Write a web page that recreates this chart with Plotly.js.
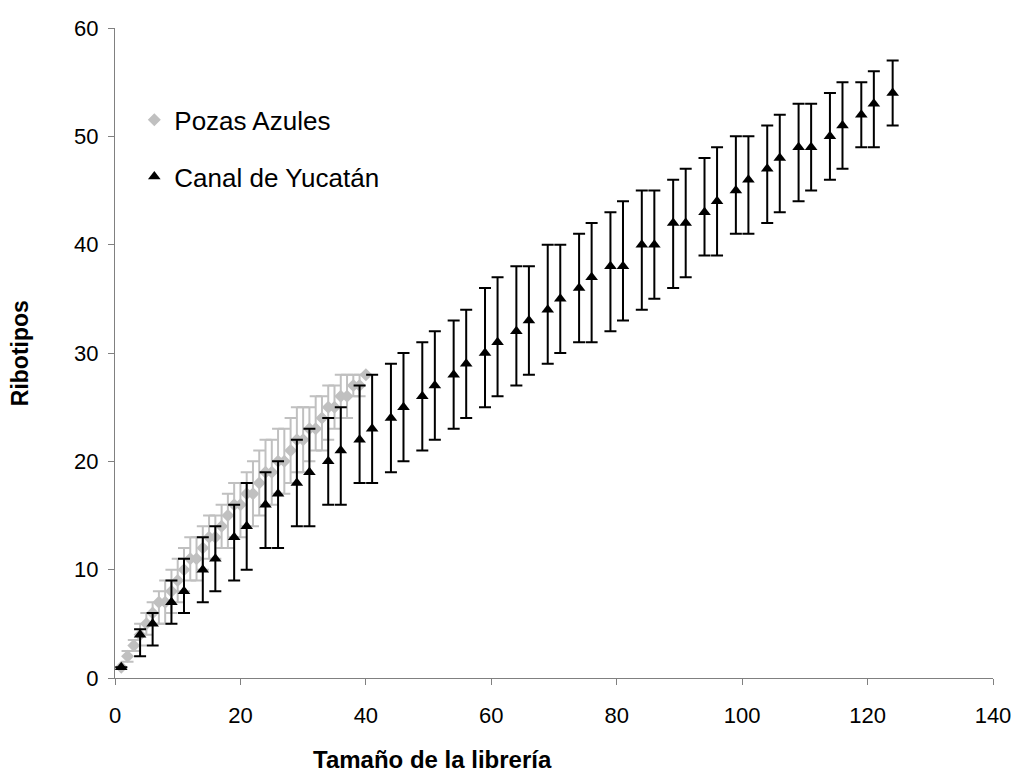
<!DOCTYPE html>
<html>
<head>
<meta charset="utf-8">
<script src="https://cdn.plot.ly/plotly-3.0.1.min.js"></script>
<style>html,body{margin:0;padding:0;background:#fff;}#chart{width:1018px;height:775px;}</style>
</head>
<body>
<div id="chart"></div>
<script>
// Pozas Azules (grey diamonds)
var pozasX = [1,2,3,4,5,6,7,8,9,10,11,12,13,14,15,16,17,18,19,20,21,22,23,24,25,26,27,28,29,30,31,32,33,34,35,36,37,38,39,40];
var pozasY = [1,2,3,4,5,6,7,7,8,9,10,11,11,12,13,13,14,15,16,16,17,17,18,19,19,20,20,21,22,22,23,23,24,25,25,26,26,27,27,28];
var pozasHi = [1,2.5,3.5,5,6,7,8,9,10,11,12,13,13,14,15,15,16,17,18,18,19,20,21,22,22,23,23,24,25,25,25,26,26,27,27,28,28,28,28,28];
var pozasLo = [1,1.5,2.5,3,4,5,5,5,6,7,8,9,9,10,11,11,12,12,13,13,14,14,15,16,16,17,17,18,19,19,20,21,21,22,23,24,24,26,26,28];

// Canal de Yucatán (black triangles)
var canalX = [1,4,6,9,11,14,16,19,21,24,26,29,31,34,36,39,41,44,46,49,51,54,56,59,61,64,66,69,71,74,76,79,81,84,86,89,91,94,96,99,101,104,106,109,111,114,116,119,121,124];
var canalY = [1,4,5,7,8,10,11,13,14,16,17,18,19,20,21,22,23,24,25,26,27,28,29,30,31,32,33,34,35,36,37,38,38,40,40,42,42,43,44,45,46,47,48,49,49,50,51,52,53,54];
var canalHi = [1,4.5,6,9,11,13,14,16,18,19,20,22,23,24,25,27,28,29,30,31,32,33,34,36,37,38,38,40,40,41,42,43,44,45,45,46,47,48,49,50,50,51,52,53,53,54,55,55,56,57];
var canalLo = [1,2,3,5,6,7,8,9,10,12,12,14,14,16,16,18,18,19,20,21,22,23,24,25,26,27,28,29,30,31,31,32,33,34,35,36,37,39,39,41,41,42,43,44,45,46,47,49,49,51];

var xTicks = [0,20,40,60,80,100,120,140];
var yTicks = [0,10,20,30,40,50,60];
var xTitle = 'Tamaño de la librería';
var yTitle = 'Ribotipos';

function plus(hi, y){ return hi.map(function(v,i){ return v - y[i]; }); }
function minus(lo, y){ return lo.map(function(v,i){ return y[i] - v; }); }

var FONT = "Liberation Sans, Arial, Helvetica, sans-serif";

var traces = [
  {
    type: 'scatter', mode: 'markers', name: 'Pozas Azules', legendgroup: 'a',
    x: pozasX, y: pozasY,
    marker: {symbol: 'diamond', size: 10, color: '#C0C0C0'},
    error_y: {type: 'data', symmetric: false, array: plus(pozasHi, pozasY), arrayminus: minus(pozasLo, pozasY),
              color: '#C0C0C0', thickness: 2, width: 6}
  },
  {
    type: 'scatter', mode: 'markers', name: 'Canal de Yucatán', legendgroup: 'b',
    x: canalX, y: canalY,
    marker: {symbol: 'triangle-up', size: 11, color: '#000000'},
    error_y: {type: 'data', symmetric: false, array: plus(canalHi, canalY), arrayminus: minus(canalLo, canalY),
              color: '#000000', thickness: 2, width: 6}
  }
];

var layout = {
  width: 1018, height: 775,
  paper_bgcolor: '#ffffff', plot_bgcolor: '#ffffff',
  margin: {l: 115, r: 25, t: 28, b: 97},
  font: {family: FONT, size: 22, color: '#000'},
  showlegend: true,
  legend: {
    x: 0.022, y: 0.895, xanchor: 'left', yanchor: 'top',
    font: {family: FONT, size: 26, color: '#000'},
    bgcolor: 'rgba(0,0,0,0)', tracegroupgap: 20, traceorder: 'grouped'
  },
  xaxis: {
    range: [0, 140], tickvals: xTicks, ticktext: xTicks.map(String),
    showline: true, linecolor: '#808080', linewidth: 1,
    ticks: 'outside', ticklen: 6, tickcolor: '#808080',
    showgrid: false, zeroline: false, ticklabelstandoff: 12,
    tickfont: {family: FONT, size: 22, color: '#000'}
  },
  yaxis: {
    range: [0, 60], tickvals: yTicks, ticktext: yTicks.map(String),
    showline: true, linecolor: '#808080', linewidth: 1,
    ticks: 'outside', ticklen: 6, tickcolor: '#808080',
    showgrid: false, zeroline: false, ticklabelstandoff: 5,
    tickfont: {family: FONT, size: 22, color: '#000'}
  },
  annotations: [
    {text: xTitle, xref: 'paper', yref: 'paper', x: 0.362, y: -0.126, xanchor: 'center', yanchor: 'middle',
     showarrow: false, font: {family: FONT, size: 24, color: '#000', weight: 'bold'}},
    {text: yTitle, xref: 'paper', yref: 'paper', x: -0.108, y: 0.5, xanchor: 'center', yanchor: 'middle',
     textangle: -90, showarrow: false, font: {family: FONT, size: 23, color: '#000', weight: 'bold'}}
  ]
};

Plotly.newPlot('chart', traces, layout, {displayModeBar: false, staticPlot: true});
</script>
</body>
</html>
